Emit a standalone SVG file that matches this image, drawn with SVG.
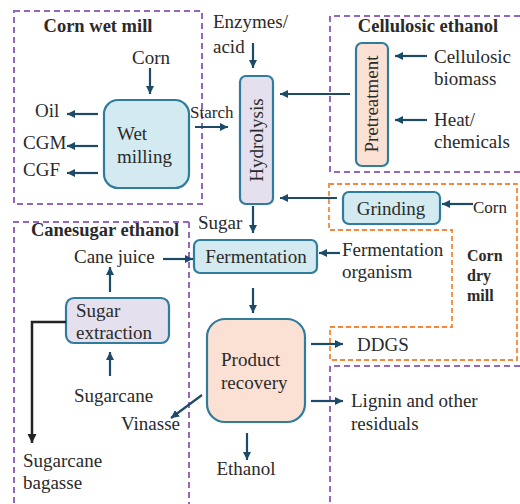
<svg xmlns="http://www.w3.org/2000/svg" width="520" height="504" viewBox="0 0 520 504">
<defs>
<marker id="ah" markerUnits="userSpaceOnUse" markerWidth="9" markerHeight="9" refX="8" refY="4" orient="auto"><path d="M0,0 L8,4 L0,8 z" fill="#1d4a66"/></marker>
<marker id="ahk" markerUnits="userSpaceOnUse" markerWidth="10" markerHeight="10" refX="9" refY="4.5" orient="auto"><path d="M0,0 L9,4.5 L0,9 z" fill="#222"/></marker>
<style>
.grp{fill:none;stroke:#9466c0;stroke-width:2;stroke-dasharray:6 4}
.org{fill:none;stroke:#f5883a;stroke-width:1.8;stroke-dasharray:5 3}
.box{stroke:#2f7c9c;stroke-width:2.2}
.blue{fill:#d3eaf1}
.lav{fill:#e5e0ed}
.pch{fill:#fbe1d4}
.arr{fill:none;stroke:#1d4a66;stroke-width:2.2;marker-end:url(#ah)}
.blk{fill:none;stroke:#222;stroke-width:2.5;marker-end:url(#ahk)}
</style>
</defs>
<rect width="520" height="504" fill="#fff"/>

<g id="groups">
<rect class="grp" x="14" y="11" width="188" height="193"/>
<path class="grp" d="M530,16 H330 V172 H530"/>
<path class="grp" d="M189,222 H14 V510 M189,222 V510"/>
<path class="grp" d="M530,366 H330 V510"/>
<path class="org" d="M329,184 H517 V360 H330 V327 H452 V230 H329 Z"/>
<text font-family="Liberation Serif" font-size="18.5" font-weight="bold" fill="#2a2a2a" x="98" y="32" text-anchor="middle">Corn wet mill</text>
<text font-family="Liberation Serif" font-size="18.5" font-weight="bold" fill="#2a2a2a" x="428" y="32" text-anchor="middle">Cellulosic ethanol</text>
<text font-family="Liberation Serif" font-size="18.5" font-weight="bold" fill="#2a2a2a" x="105" y="236" text-anchor="middle">Canesugar ethanol</text>
<text font-family="Liberation Serif" font-size="16" font-weight="bold" fill="#2a2a2a" x="467" y="261">Corn</text>
<text font-family="Liberation Serif" font-size="16" font-weight="bold" fill="#2a2a2a" x="467" y="281">dry</text>
<text font-family="Liberation Serif" font-size="16" font-weight="bold" fill="#2a2a2a" x="467" y="301">mill</text>
</g>

<g id="wet-milling"><rect class="box blue" x="104" y="100" width="85" height="88" rx="14"/><text font-family="Liberation Serif" font-size="19" fill="#2a2a2a" x="117" y="140">Wet</text><text font-family="Liberation Serif" font-size="19" fill="#2a2a2a" x="117" y="163">milling</text></g>
<g id="hydrolysis"><rect class="box lav" x="240" y="76" width="33" height="128" rx="6"/><text font-family="Liberation Serif" font-size="19" fill="#2a2a2a" x="257" y="146" text-anchor="middle" transform="rotate(-90 257 140)">Hydrolysis</text></g>
<g id="pretreatment"><rect class="box pch" x="356" y="43" width="32" height="123" rx="6"/><text font-family="Liberation Serif" font-size="19" fill="#2a2a2a" x="372" y="110" text-anchor="middle" transform="rotate(-90 372 104)">Pretreatment</text></g>
<g id="grinding"><rect class="box blue" x="343" y="192" width="97" height="32" rx="6"/><text font-family="Liberation Serif" font-size="19" fill="#2a2a2a" x="391" y="215" text-anchor="middle">Grinding</text></g>
<g id="fermentation"><rect class="box blue" x="194" y="240" width="123" height="33" rx="6"/><text font-family="Liberation Serif" font-size="19" fill="#2a2a2a" x="256" y="263" text-anchor="middle">Fermentation</text></g>
<g id="product-recovery"><rect class="box pch" x="207" y="319" width="98" height="103" rx="18"/><text font-family="Liberation Serif" font-size="19" fill="#2a2a2a" x="221" y="366">Product</text><text font-family="Liberation Serif" font-size="19" fill="#2a2a2a" x="221" y="389">recovery</text></g>
<g id="sugar-extraction"><rect class="box lav" x="66" y="298" width="103" height="45" rx="8"/><text font-family="Liberation Serif" font-size="19" fill="#2a2a2a" x="76" y="317">Sugar</text><text font-family="Liberation Serif" font-size="19" fill="#2a2a2a" x="76" y="339">extraction</text></g>

<g id="labels">
<text font-family="Liberation Serif" font-size="19" fill="#2a2a2a" x="151" y="64" text-anchor="middle">Corn</text>
<text font-family="Liberation Serif" font-size="19" fill="#2a2a2a" x="35" y="117">Oil</text>
<text font-family="Liberation Serif" font-size="19" fill="#2a2a2a" x="23" y="149">CGM</text>
<text font-family="Liberation Serif" font-size="19" fill="#2a2a2a" x="23" y="176">CGF</text>
<text font-family="Liberation Serif" font-size="17" fill="#2a2a2a" x="190" y="118">Starch</text>
<text font-family="Liberation Serif" font-size="19" fill="#2a2a2a" x="213" y="28">Enzymes/</text>
<text font-family="Liberation Serif" font-size="19" fill="#2a2a2a" x="213" y="53">acid</text>
<text font-family="Liberation Serif" font-size="19" fill="#2a2a2a" x="434" y="63">Cellulosic</text>
<text font-family="Liberation Serif" font-size="19" fill="#2a2a2a" x="434" y="85">biomass</text>
<text font-family="Liberation Serif" font-size="19" fill="#2a2a2a" x="434" y="126">Heat/</text>
<text font-family="Liberation Serif" font-size="19" fill="#2a2a2a" x="434" y="148">chemicals</text>
<text font-family="Liberation Serif" font-size="17" fill="#2a2a2a" x="473" y="213">Corn</text>
<text font-family="Liberation Serif" font-size="19" fill="#2a2a2a" x="198" y="229">Sugar</text>
<text font-family="Liberation Serif" font-size="19" fill="#2a2a2a" x="74" y="263">Cane juice</text>
<text font-family="Liberation Serif" font-size="19" fill="#2a2a2a" x="342" y="256">Fermentation</text>
<text font-family="Liberation Serif" font-size="19" fill="#2a2a2a" x="342" y="278">organism</text>
<text font-family="Liberation Serif" font-size="19" fill="#2a2a2a" x="74" y="402">Sugarcane</text>
<text font-family="Liberation Serif" font-size="19" fill="#2a2a2a" x="23" y="467">Sugarcane</text>
<text font-family="Liberation Serif" font-size="19" fill="#2a2a2a" x="23" y="489">bagasse</text>
<text font-family="Liberation Serif" font-size="19" fill="#2a2a2a" x="357" y="351">DDGS</text>
<text font-family="Liberation Serif" font-size="19" fill="#2a2a2a" x="351" y="407">Lignin and other</text>
<text font-family="Liberation Serif" font-size="19" fill="#2a2a2a" x="351" y="430">residuals</text>
<text font-family="Liberation Serif" font-size="19" fill="#2a2a2a" x="121" y="430">Vinasse</text>
<text font-family="Liberation Serif" font-size="19" fill="#2a2a2a" x="246" y="475" text-anchor="middle">Ethanol</text>
</g>

<g id="connectors">
<line class="arr" x1="150" y1="68" x2="150" y2="94"/>
<line class="arr" x1="98" y1="114" x2="67" y2="114"/>
<line class="arr" x1="98" y1="146" x2="67" y2="146"/>
<line class="arr" x1="98" y1="173" x2="67" y2="173"/>
<line class="arr" x1="195" y1="127" x2="228" y2="127"/>
<line class="arr" x1="253" y1="43" x2="253" y2="68"/>
<line class="arr" x1="350" y1="94" x2="280" y2="94"/>
<line class="arr" x1="427" y1="56" x2="395" y2="56"/>
<line class="arr" x1="427" y1="120" x2="395" y2="120"/>
<line class="arr" x1="337" y1="198" x2="280" y2="198"/>
<line class="arr" x1="473" y1="204" x2="442" y2="204"/>
<line class="arr" x1="253" y1="206" x2="253" y2="233"/>
<line class="arr" x1="163" y1="259" x2="193" y2="259"/>
<line class="arr" x1="340" y1="253" x2="319" y2="253"/>
<line class="arr" x1="253" y1="288" x2="253" y2="313"/>
<line class="arr" x1="110" y1="292" x2="110" y2="267"/>
<line class="arr" x1="110" y1="376" x2="110" y2="352"/>
<polyline class="blk" points="66,322 32,322 32,443"/>
<line class="arr" x1="311" y1="344" x2="343" y2="344"/>
<line class="arr" x1="311" y1="401" x2="343" y2="401"/>
<line class="arr" x1="202" y1="395" x2="171" y2="418"/>
<line class="arr" x1="247" y1="433" x2="247" y2="460"/>
</g>
</svg>
